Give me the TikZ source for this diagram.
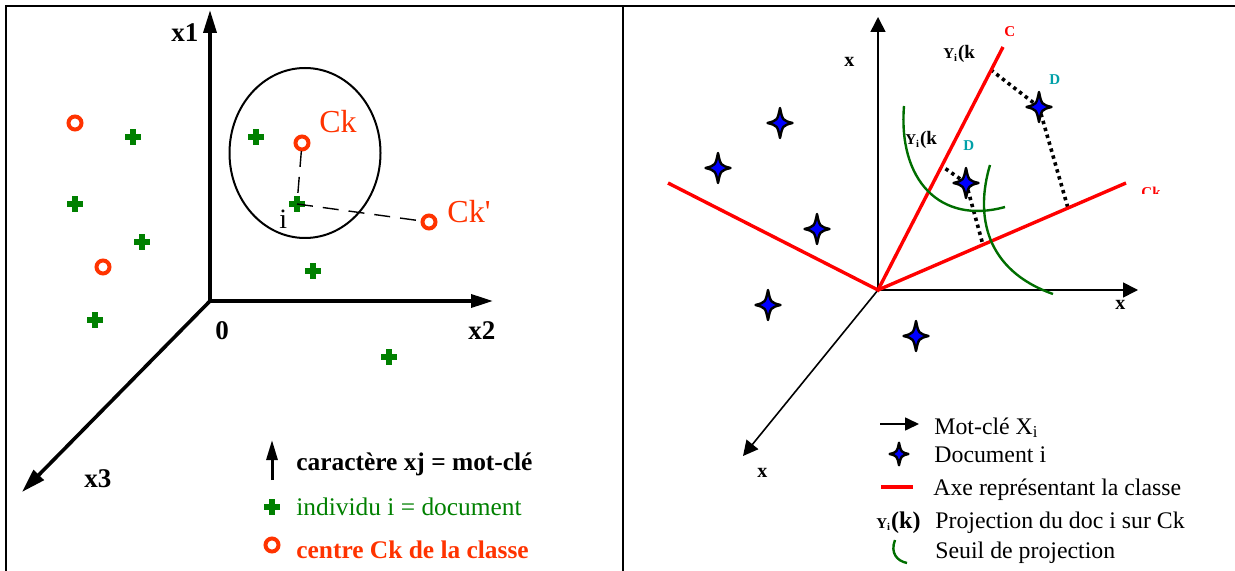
\documentclass[tikz,border=0pt]{standalone}
\usepackage{fontspec}
\setmainfont{Liberation Serif}
\usetikzlibrary{arrows.meta,calc}
\definecolor{ink}{HTML}{000000}
\definecolor{docgreen}{HTML}{008000}
\definecolor{centrec}{HTML}{FF3300}
\definecolor{classred}{HTML}{FF0000}
\definecolor{seuilc}{HTML}{006E00}
\definecolor{tealc}{HTML}{00A0A8}
\definecolor{starblue}{HTML}{0000FF}

\newcommand{\yik}{{\fontsize{7.5}{8}\selectfont Y\textsubscript{i}}(k}

\tikzset{
  docplus/.pic={
    \fill[docgreen] (-8.4,-2.6) rectangle (8.4,2.6);
    \fill[docgreen] (-2.6,-8.4) rectangle (2.6,8.4);
  },
  centrering/.pic={
    \draw[centrec, line width=2pt] (0,0) circle[radius=6.5];
  },
  docstar/.pic={
    \draw[ink, fill=starblue, line width=1.2pt, line join=round]
      (0,-15) .. controls (2.6,-2.6) .. (12.5,0) .. controls (2.6,2.6) .. (0,15)
      .. controls (-2.6,2.6) .. (-12.5,0) .. controls (-2.6,-2.6) .. (0,-15) -- cycle;
  }
}

\begin{document}
\begin{tikzpicture}[
  x=0.5pt, y=-0.5pt,
  every node/.style={inner sep=0pt, anchor=base west},
  axisbold/.style={draw=ink, line width=1.8pt, line join=miter},
  axisthin/.style={draw=ink, line width=0.8pt, -{Triangle[length=7.5pt,width=7.5pt]}},
  classaxis/.style={draw=classred, line width=1.7pt},
  seuil/.style={draw=seuilc, line width=1.2pt},
  projdots/.style={draw=ink, line width=1.8pt, dash pattern=on 1.7pt off 1.9pt},
  distdash/.style={draw=ink, line width=0.7pt, dash pattern=on 8pt off 5pt},
  axislabel/.style={font=\fontsize{13.5}{15}\selectfont\bfseries},
  leglabel/.style={font=\fontsize{12.7}{14}\selectfont},
  legright/.style={font=\fontsize{11.9}{13}\selectfont},
  smallbold/.style={font=\fontsize{10}{11}\selectfont\bfseries},
  classtag/.style={font=\fontsize{7.5}{8}\selectfont\bfseries, text=classred},
  dtag/.style={font=\fontsize{7.5}{8}\selectfont\bfseries, text=tealc},
  projtag/.style={font=\fontsize{9.5}{10}\selectfont\bfseries}
]
\useasboundingbox (0,0) rectangle (1235,571);

% Frame
\draw[ink, line width=1pt] (6,571) -- (6,6) -- (1235,6);
\draw[ink, line width=1pt] (623,6) -- (623,571);

% ---------- Left panel ----------
% Axes
\coordinate (o) at (210,301);
\coordinate (x1tip) at (210,10);
\coordinate (x2tip) at (493,301);
\coordinate (x3tip) at (22,492);
\draw[axisbold, {Triangle[length=11.5pt,width=6.5pt]}-{Triangle[length=11pt,width=6.5pt]}] (x1tip) -- (o) -- (x2tip);
\draw[axisbold, -{Triangle[length=12pt,width=7pt]}] (o) -- (x3tip);

\node[axislabel] (lx1) at (171,42) {x1};
\node[axislabel] (lx2) at (468,340) {x2};
\node[axislabel] (lx3) at (84,487) {x3};
\node[axislabel] (l0) at (215,339) {0};

% Class boundary
\draw[ink, line width=1pt] (305,153) ellipse[x radius=75.5, y radius=85];

% Documents
\foreach \name/\px/\py in {pa/133/137, pb/75/204, pc/142/242, pd/95/320, pe/256/137, pi/297/204, pf/313/271, pg/389/357} {
  \coordinate (\name) at (\px,\py);
  \pic at (\name) {docplus};
}

% Class centres
\foreach \name/\px/\py in {cca/75/123, ccb/103/267, ck/302/143, ckp/429/222} {
  \coordinate (\name) at (\px,\py);
  \pic at (\name) {centrering};
}

% Distances
\draw[distdash, shorten <=4pt, shorten >=3pt] (ck) -- (pi);
\draw[distdash, shorten >=3.5pt] (pi) -- (ckp);

\node[font=\fontsize{16}{18}\selectfont, text=centrec] (lck) at (319,133) {Ck};
\node[font=\fontsize{16}{18}\selectfont, text=centrec] (lckp) at (447,223) {Ck\textquotesingle};
\node[font=\fontsize{14}{16}\selectfont] (li) at (279,229) {i};

% Legend
\coordinate (legbot) at (272,480);
\coordinate (legtop) at (272,440);
\draw[ink, line width=1.5pt, -{Triangle[length=10pt,width=5.5pt]}] (legbot) -- (legtop);
\node[leglabel, font=\fontsize{12.7}{14}\selectfont\bfseries] (lcar) at (296,470) {caractère xj = mot-clé};
\coordinate (legplus) at (272,507);
\pic at (legplus) {docplus};
\node[leglabel, text=docgreen] (lind) at (296,515) {individu i = document};
\coordinate (legring) at (272,545);
\pic at (legring) {centrering};
\node[leglabel, font=\fontsize{12.7}{14}\selectfont\bfseries, text=centrec] (lcen) at (296,558) {centre Ck de la classe};

% ---------- Right panel ----------
% Axes
\coordinate (ro) at (878,290);
\coordinate (rytip) at (878,17);
\coordinate (rxtip) at (1138,290);
\coordinate (rztip) at (743,456);
\draw[axisthin] (ro) -- (rytip);
\draw[axisthin] (ro) -- (rxtip);
\draw[axisthin] (ro) -- (rztip);

\node[smallbold] (lxa) at (844,67) {x};
\node[smallbold] (lxb) at (1115,310) {x};
\node[smallbold] (lxc) at (757,477) {x};

% Class axes
\coordinate (axl) at (668,183);
\coordinate (axc) at (1003,47);
\coordinate (axck) at (1126,183);

% Documents
\foreach \name/\px/\py in {s1/1039/107, s2/966/183, s3/780/123, s4/718/168, s5/817/229, s6/768/305, s7/916/336} {
  \coordinate (\name) at (\px,\py);
}

% Projections
\coordinate (q1c) at ($(ro)!0.905!(axc)$);
\coordinate (q2c) at ($(ro)!0.51!(axc)$);
\coordinate (q1k) at ($(ro)!0.766!(axck)$);
\coordinate (q2k) at ($(ro)!0.423!(axck)$);
\draw[projdots] (s1) -- (q1c);
\draw[projdots] (s1) -- (q1k);
\draw[projdots] (s2) -- (q2c);
\draw[projdots] (s2) -- (q2k);

\draw[classaxis] (axl) -- (ro) -- (axc);
\draw[classaxis] (ro) -- (axck);

% Projection thresholds
\draw[seuil] (904,106) .. controls (898,180) and (940,225) .. (1005,207);
\draw[seuil] (990,165) .. controls (975,215) and (985,270) .. (1053,294);

\foreach \name in {s1,s2,s3,s4,s5,s6,s7} {
  \pic at (\name) {docstar};
}

\node[classtag] (lc) at (1004,37) {C};
\begin{scope}
  \clip (1135,180) rectangle (1180,193.5);
  \node[classtag] (lck2) at (1141,198) {Ck};
\end{scope}
\node[dtag] (ld1) at (1049,85) {D};
\node[dtag] (ld2) at (963,151) {D};
\node[projtag] (ly1) at (943,59) {\yik};
\node[projtag] (ly2) at (905,145) {\yik};

% Legend
\coordinate (kwa) at (880,424);
\coordinate (kwb) at (919,424);
\draw[ink, line width=0.8pt, -{Triangle[length=7pt,width=6.5pt]}] (kwa) -- (kwb);
\node[legright] (lkw) at (934,434) {Mot-clé X\textsubscript{i}};
\coordinate (legstar) at (899,454);
\pic[scale=0.75] at (legstar) {docstar};
\node[legright] (ldoc) at (934,462) {Document i};
\coordinate (lra) at (881,487);
\coordinate (lrb) at (913,487);
\draw[classaxis] (lra) -- (lrb);
\node[legright] (lax) at (933,495) {Axe représentant la classe};
\node[font=\fontsize{12}{13}\selectfont\bfseries] (lyk) at (876,528) {{\fontsize{7.5}{8}\selectfont Y\textsubscript{i}}(k)};
\node[legright] (lproj) at (935,528) {Projection du doc i sur Ck};
\draw[seuil] (895,540) .. controls (890,553) and (897,561) .. (907,563);
\node[legright] (lseuil) at (935,558) {Seuil de projection};

\end{tikzpicture}
\end{document}
